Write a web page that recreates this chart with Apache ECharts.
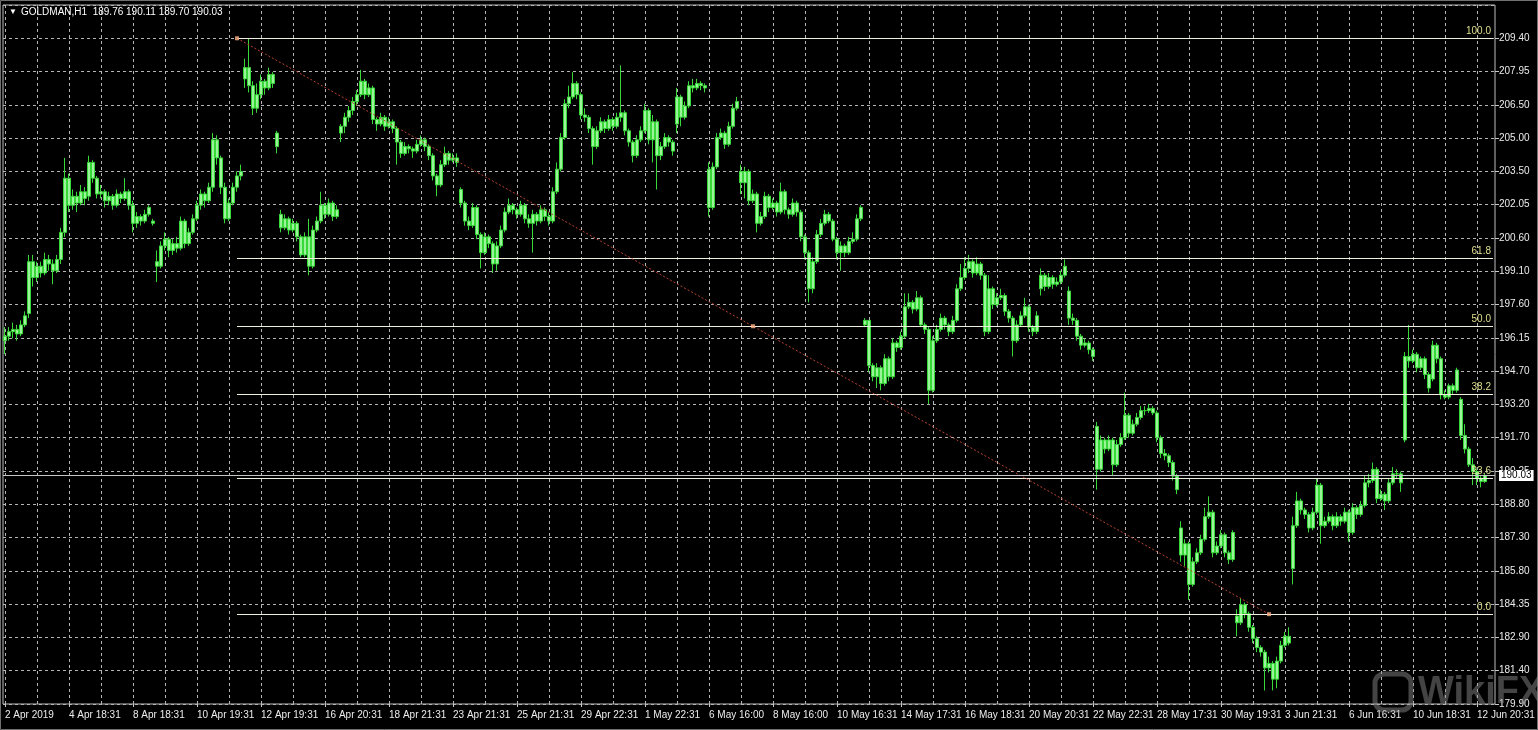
<!DOCTYPE html>
<html><head><meta charset="utf-8">
<script src="https://cdn.jsdelivr.net/npm/echarts@6/dist/echarts.min.js"></script>
<style>html,body{margin:0;padding:0;background:#000;}#c{width:1538px;height:730px;}</style>
</head><body><div id="c"></div><script>
// ---- data (GOLDMAN, H1) ----
const symbolName = 'GOLDMAN,H1';
const xTickLabels = ['2 Apr 2019','4 Apr 18:31','8 Apr 18:31','10 Apr 19:31','12 Apr 19:31','16 Apr 20:31','18 Apr 21:31','23 Apr 21:31','25 Apr 21:31','29 Apr 22:31','1 May 22:31','6 May 16:00','8 May 16:00','10 May 16:31','14 May 17:31','16 May 18:31','20 May 20:31','22 May 22:31','28 May 17:31','30 May 19:31','3 Jun 21:31','6 Jun 16:31','10 Jun 18:31','12 Jun 20:31'];
const yTickLabels = ['179.90','181.40','182.90','184.35','185.80','187.30','188.80','190.25','191.70','193.20','194.70','196.15','197.60','199.10','200.60','202.05','203.50','205.00','206.50','207.95','209.40'];

const opens = [
196.0,196.2,196.4,196.5,196.3,196.7,197.2,199.5,198.8,199.3,199.0,199.6,199.4,199.1,199.6,200.8,
203.2,202.0,202.4,202.1,202.6,202.4,203.9,203.2,202.5,202.6,202.2,202.4,202.0,202.5,202.3,202.6,
202.0,201.2,201.5,201.3,201.6,201.2,199.5,199.3,200.2,200.5,200.0,200.3,200.1,201.3,200.3,200.8,
201.4,202.0,202.5,202.2,202.8,204.9,204.1,202.8,201.4,202.1,202.8,203.3,207.6,208.1,207.3,206.3,
206.9,207.5,207.2,207.8,205.2,201.6,201.0,201.4,200.9,201.2,200.6,199.8,200.6,199.3,200.9,201.3,
202.0,201.6,202.1,201.5,205.2,205.5,205.9,206.2,206.6,206.9,207.5,206.9,207.2,205.8,205.6,205.9,
205.5,205.7,205.4,204.8,204.3,204.6,204.5,204.4,204.7,204.9,204.6,204.2,203.3,202.9,203.8,204.3,
204.0,204.1,202.7,202.1,201.3,201.1,201.9,200.7,199.9,200.6,200.3,199.4,200.2,200.9,201.7,202.0,
201.8,201.6,202.0,201.4,201.2,201.6,201.3,201.8,201.5,201.3,202.6,203.6,205.0,206.5,206.8,207.4,
206.9,206.0,205.9,205.4,204.6,205.3,205.7,205.4,205.8,205.5,205.9,206.1,205.3,204.8,204.2,204.9,
205.3,206.2,204.9,205.7,204.2,204.6,205.0,204.8,205.6,206.8,205.9,206.4,207.3,207.2,207.4,207.3,
203.6,201.9,203.7,205.0,205.2,204.7,205.5,206.3,203.5,203.0,203.5,202.2,202.5,201.2,201.5,202.4,
201.9,202.1,201.7,202.6,201.8,201.6,202.1,201.7,200.6,199.9,198.3,199.5,200.7,201.2,201.6,201.3,
200.5,199.9,200.2,199.9,200.4,200.5,201.4,196.7,196.9,194.9,194.4,194.8,194.1,195.2,194.4,195.9,
195.7,196.2,197.5,197.7,197.4,197.9,196.7,196.5,193.8,196.0,196.5,197.0,196.7,196.4,196.9,198.3,
198.8,199.2,199.5,199.0,199.4,198.9,196.4,198.3,197.6,197.9,198.0,197.3,197.0,196.0,196.7,197.1,
197.5,196.6,196.4,198.3,198.9,198.4,198.8,198.5,198.6,198.9,198.2,197.0,196.9,196.2,195.8,195.9,
195.6,192.2,190.3,191.6,191.2,191.6,190.5,191.4,191.7,192.7,191.9,192.3,192.6,192.9,192.9,193.0,
192.8,191.7,191.0,190.9,190.6,190.0,187.7,186.5,187.0,185.2,186.2,186.6,187.2,188.2,188.4,186.6,
186.9,187.4,186.6,186.3,183.8,183.5,184.3,183.9,183.3,182.8,182.4,182.2,181.5,181.7,181.0,181.8,
182.5,182.9,185.9,187.8,188.9,188.5,188.3,187.7,188.4,189.6,187.8,188.0,188.2,187.8,188.2,188.0,
188.4,187.5,188.6,188.3,188.7,189.7,189.8,190.3,189.0,189.2,188.9,189.7,190.1,190.1,191.6,195.3,
195.1,195.4,194.8,195.2,194.5,194.3,195.8,195.2,193.6,193.5,194.0,193.8,193.4,191.8,191.2,190.5,
190.2,189.9,189.76];
const highs = [
196.6,196.6,196.8,196.7,196.9,197.3,199.8,199.8,199.5,199.5,199.9,199.8,199.6,199.8,201.0,204.1,
203.4,202.7,202.6,202.9,202.8,204.2,204.0,203.3,202.9,202.7,202.6,202.5,202.7,202.6,203.2,202.7,
202.2,201.7,201.6,201.8,202.0,201.4,200.0,200.4,200.8,200.6,200.5,200.6,201.5,201.4,201.0,201.6,
202.2,202.7,202.6,203.0,205.2,205.1,204.2,203.0,202.3,203.0,203.5,203.8,208.5,209.4,207.5,207.4,
207.8,207.6,208.1,207.9,205.3,201.8,201.6,201.5,201.4,201.3,200.7,200.8,201.4,201.1,201.5,202.6,
202.1,202.3,202.2,202.0,205.6,206.1,206.4,206.8,207.1,208.0,207.6,207.4,207.3,205.9,206.1,206.0,
205.9,205.8,205.5,204.9,204.8,204.7,204.6,204.9,205.1,205.0,204.7,204.3,203.4,204.0,204.6,204.4,
204.3,204.3,202.8,202.2,201.5,202.1,202.0,200.8,200.8,200.7,200.4,200.4,201.1,201.9,202.3,202.1,
201.9,202.2,202.1,201.6,201.8,201.7,202.0,201.9,201.7,202.8,203.9,205.2,206.7,207.3,207.9,207.5,
207.0,206.3,206.0,205.5,205.5,205.9,205.8,206.0,205.9,206.1,208.2,206.2,205.4,204.9,205.1,205.5,
206.5,206.3,206.0,205.8,204.8,205.2,205.1,204.9,207.2,206.9,206.6,207.5,207.6,207.6,207.5,207.4,
203.9,203.9,205.2,205.4,205.3,205.7,206.5,206.8,203.8,203.7,203.6,202.7,202.6,201.7,202.6,202.5,
202.3,202.2,203.0,202.7,201.9,202.3,202.2,201.8,200.7,200.0,199.7,200.9,201.4,201.8,201.7,201.4,
200.6,200.4,200.3,200.6,200.8,201.6,202.0,197.0,196.9,195.0,195.0,194.9,195.4,195.3,196.1,196.0,
196.4,198.1,198.1,197.8,198.2,198.0,196.8,196.6,196.2,196.7,197.2,197.1,196.8,197.1,198.5,199.4,
199.7,199.8,199.6,199.7,199.5,199.0,198.9,198.4,198.1,198.3,198.1,197.4,197.1,196.9,197.3,197.9,
197.6,196.7,197.3,199.2,199.0,199.0,198.9,198.8,199.1,199.6,198.4,197.2,197.0,196.3,196.1,196.0,
195.7,192.4,191.8,191.7,191.8,191.7,191.6,191.9,193.7,192.8,192.5,192.8,193.1,193.1,193.2,193.1,
192.9,191.8,191.2,191.0,190.7,190.1,188.0,187.2,187.1,186.4,186.8,187.4,188.6,189.1,188.5,187.1,
187.6,187.5,186.7,187.6,184.1,184.6,184.4,184.0,183.4,182.9,182.5,182.3,182.0,181.8,182.0,182.7,
183.1,183.3,188.2,189.3,189.0,188.6,188.4,188.6,189.9,189.7,188.2,188.4,188.3,188.4,188.3,188.6,
188.5,188.8,188.7,188.9,190.0,190.1,190.6,190.4,189.4,189.3,189.9,190.4,190.3,190.2,195.5,196.7,
195.6,195.5,195.3,195.3,194.6,196.0,195.9,195.3,193.8,194.1,194.1,194.8,193.5,192.3,191.3,190.8,
190.3,190.0,190.11];
const lows = [
195.4,196.0,196.1,196.0,196.2,196.6,197.0,198.4,198.6,198.8,198.9,199.1,198.5,199.0,199.4,200.6,
201.7,201.8,201.7,202.0,202.0,202.2,203.0,202.3,202.3,201.9,202.0,201.8,201.9,202.1,202.2,201.8,
200.8,201.0,201.1,201.2,201.5,201.1,198.6,199.2,200.0,199.7,199.8,199.9,200.0,200.1,200.2,200.7,
201.3,201.8,201.9,202.1,202.6,203.8,202.5,201.2,201.3,202.0,202.6,203.1,207.2,207.0,206.0,206.1,
206.7,206.9,207.1,207.2,204.3,200.8,200.9,200.7,200.8,200.4,199.7,199.7,198.9,199.2,200.8,201.2,
201.4,201.5,201.3,201.4,204.8,205.2,205.7,206.0,206.4,206.8,206.7,206.8,205.6,205.3,205.5,205.3,
205.4,205.2,203.8,204.1,204.2,204.3,204.1,204.3,204.6,204.4,204.0,203.1,202.4,202.8,203.7,203.8,
203.9,203.7,201.9,201.1,200.9,201.0,200.5,199.2,199.8,200.1,199.0,199.1,200.1,200.8,201.6,201.6,
201.4,201.5,201.2,201.0,199.9,201.1,201.2,201.3,201.1,201.2,202.5,203.5,204.9,206.3,206.7,206.7,
205.8,205.7,205.2,203.8,204.5,205.2,205.2,205.3,205.3,205.4,205.7,205.1,204.6,203.9,204.1,204.8,
205.2,204.7,203.9,202.7,204.0,204.5,204.6,204.2,205.2,205.5,205.8,206.3,207.0,207.1,207.1,207.0,
201.5,201.8,203.6,204.9,204.5,204.6,205.4,206.2,202.5,202.3,202.0,202.1,200.8,201.1,201.4,201.7,
201.8,201.5,201.6,201.6,201.4,201.5,201.5,200.4,199.6,197.7,198.1,199.4,200.6,201.1,201.2,200.4,
199.6,199.1,199.7,199.8,200.3,200.4,201.3,196.6,194.6,194.2,193.9,193.8,194.0,194.2,194.3,195.5,
195.6,196.1,197.4,197.2,197.3,196.6,196.3,193.2,193.7,195.9,196.4,196.5,196.2,196.3,196.8,198.2,
198.7,199.0,198.8,198.9,198.7,196.2,196.3,197.4,197.5,197.8,197.1,196.8,195.3,195.9,196.6,197.0,
196.4,196.2,196.3,198.0,198.2,198.3,198.3,198.4,198.5,198.8,196.7,196.7,196.0,195.6,195.7,195.4,
195.1,189.4,190.2,191.0,191.1,190.0,190.4,191.3,191.6,191.7,191.8,192.2,192.5,192.7,192.8,192.7,
191.5,190.8,190.7,190.4,189.8,189.2,186.2,186.0,184.5,185.1,186.1,186.5,187.1,188.1,186.4,186.5,
186.8,186.4,186.1,186.2,182.9,183.4,183.7,183.1,182.6,182.2,182.0,180.5,181.3,180.5,180.6,181.7,
182.4,182.5,185.2,187.7,188.3,188.1,187.5,187.6,188.3,187.0,187.7,187.9,187.6,187.7,187.8,187.9,
187.1,187.4,188.1,188.2,188.6,189.5,189.7,188.8,188.9,188.5,188.8,189.6,189.9,189.3,191.5,194.8,
195.0,194.6,194.7,194.3,193.7,194.2,195.0,193.4,193.4,193.4,193.6,193.7,191.6,191.0,190.4,189.6,
189.6,189.5,189.70];
const closes = [
196.2,196.4,196.5,196.3,196.7,197.1,199.5,198.8,199.3,199.0,199.6,199.4,199.1,199.6,200.8,203.2,
202.0,202.4,202.1,202.6,202.3,203.9,203.2,202.5,202.6,202.2,202.4,202.0,202.5,202.3,202.6,202.0,
201.2,201.5,201.3,201.6,201.9,201.3,199.3,200.2,200.5,200.0,200.3,200.1,201.3,200.3,200.8,201.4,
202.0,202.5,202.2,202.8,204.9,204.1,202.8,201.4,202.1,202.8,203.3,203.5,208.1,207.3,206.3,206.9,
207.5,207.2,207.8,207.4,204.6,201.0,201.4,200.9,201.2,200.6,199.8,200.6,199.3,200.9,201.3,202.0,
201.6,202.1,201.5,201.8,205.5,205.9,206.2,206.6,206.9,207.5,206.9,207.2,205.8,205.6,205.9,205.5,
205.7,205.4,204.8,204.3,204.6,204.5,204.4,204.7,204.9,204.6,204.2,203.3,202.9,203.8,204.3,204.0,
204.1,203.9,202.1,201.3,201.1,201.9,200.7,199.9,200.6,200.3,199.4,200.2,200.9,201.7,202.0,201.8,
201.6,202.0,201.4,201.2,201.6,201.3,201.8,201.5,201.3,202.6,203.6,205.0,206.5,206.8,207.4,206.9,
206.0,205.9,205.4,204.6,205.3,205.7,205.4,205.8,205.5,205.9,206.1,205.3,204.8,204.2,204.9,205.3,
206.2,204.9,205.7,204.2,204.6,205.0,204.8,204.4,206.8,205.9,206.4,207.3,207.2,207.4,207.3,207.2,
201.9,203.7,205.0,205.2,204.7,205.5,206.3,206.6,203.0,203.5,202.2,202.5,201.2,201.5,202.4,201.9,
202.1,201.7,202.6,201.8,201.6,202.1,201.7,200.6,199.9,198.3,199.5,200.7,201.2,201.6,201.3,200.5,
199.9,200.2,199.9,200.4,200.5,201.4,201.9,196.9,194.9,194.4,194.8,194.1,195.2,194.4,195.9,195.7,
196.2,197.5,197.7,197.4,197.9,196.7,196.5,193.8,196.0,196.5,197.0,196.7,196.4,196.9,198.3,198.8,
199.2,199.5,199.0,199.4,198.9,196.4,198.3,197.6,197.9,198.0,197.3,197.0,196.0,196.7,197.1,197.5,
196.6,196.4,197.1,198.9,198.4,198.8,198.5,198.6,198.9,199.3,197.0,196.9,196.2,195.8,195.9,195.6,
195.3,190.3,191.6,191.2,191.6,190.5,191.4,191.7,192.7,191.9,192.3,192.6,192.9,192.9,193.0,192.8,
191.7,191.0,190.9,190.6,190.0,189.4,186.5,187.0,185.2,186.2,186.6,187.2,188.2,188.4,186.6,186.9,
187.4,186.6,186.3,187.5,183.5,184.3,183.9,183.3,182.8,182.4,182.2,181.5,181.7,181.0,181.8,182.5,
182.9,182.6,187.8,188.9,188.5,188.3,187.7,188.4,189.6,187.8,188.0,188.2,187.8,188.2,188.0,188.4,
187.5,188.6,188.3,188.7,189.7,189.8,190.3,189.0,189.2,188.9,189.7,190.1,190.1,189.7,195.3,195.1,
195.4,194.8,195.2,194.5,193.9,195.8,195.2,193.6,193.5,194.0,193.8,194.7,191.8,191.2,190.5,190.2,
189.9,189.76,190.03];

// Fibonacci retracement drawn on the chart
const fibLevels = [0, 23.6, 38.2, 50, 61.8, 100];
const fibHigh = 209.40, fibLow = 183.88;
const fibStartBar = 58, fibEndBar = 316;
const bidPrice = 190.03;

// ---- chart ----
const FONT = "'Liberation Sans', Arial, sans-serif";
const N_SLOTS = 373;
const cats = Array.from({length: N_SLOTS}, (_, i) => String(i));
const candles = opens.map((o, i) => [o, closes[i], lows[i], highs[i]]);
const fibValue = p => fibLow + (fibHigh - fibLow) * p / 100;
const last = opens.length - 1;
const Y_MIN = 179.9, Y_STEP = 1.475;

const chart = echarts.init(document.getElementById('c'), null, {renderer: 'canvas'});
const option = {
  backgroundColor: '#000',
  animation: false,
  grid: {left: 3, right: 43, top: 5, bottom: 26, show: true, borderColor: '#bdbdbd', borderWidth: 1, backgroundColor: '#000'},
  xAxis: {
    type: 'category', data: cats, boundaryGap: true,
    axisLine: {show: false},
    axisTick: {show: true, alignWithLabel: true, interval: i => i % 16 === 0, length: 3, lineStyle: {color: '#c8c8c8'}},
    axisLabel: {interval: i => i % 16 === 0, formatter: (v, i) => xTickLabels[i / 16] || '', align: 'left',
      color: '#ececec', fontSize: 10, fontFamily: FONT, margin: 6},
    splitLine: {show: true, interval: i => i % 8 === 0, alignWithLabel: true, lineStyle: {color: '#b4b4b4', type: [3, 3], width: 1}}
  },
  yAxis: {
    type: 'value', position: 'right', min: Y_MIN, max: Y_MIN + 21 * Y_STEP, interval: Y_STEP,
    axisLine: {show: false},
    axisTick: {show: true, length: 4, lineStyle: {color: '#c8c8c8'}},
    axisLabel: {showMaxLabel: false, formatter: v => yTickLabels[Math.round((v - Y_MIN) / Y_STEP)] || '',
      color: '#ececec', fontSize: 10, fontFamily: FONT, margin: 4},
    splitLine: {show: true, lineStyle: {color: '#b4b4b4', type: [3, 3], width: 1}}
  },
  series: [
    {
      type: 'candlestick', data: candles, barWidth: 3, z: 3,
      itemStyle: {color: '#9af59a', color0: '#9af59a', borderColor: '#38d838', borderColor0: '#38d838', borderWidth: 1},
      markLine: {
        silent: true, symbol: ['none', 'none'], animation: false,
        data: [
          ...fibLevels.map(p => [
            {coord: [String(fibStartBar), fibValue(p)], lineStyle: {color: '#efefdc', width: 1, type: 'solid'},
             label: {show: true, position: 'insideEndTop', formatter: p.toFixed(1), color: '#dede8c', fontSize: 10, fontFamily: FONT, distance: 2}},
            {coord: [String(N_SLOTS - 1), fibValue(p)]}
          ]),
          [
            {coord: [String(fibStartBar), fibHigh], lineStyle: {color: '#b8402e', type: [2, 2], width: 1}, label: {show: false}},
            {coord: [String(fibEndBar), fibLow]}
          ],
          {yAxis: bidPrice, lineStyle: {color: '#c4c4c4', type: 'solid', width: 1},
           label: {show: true, position: 'end', formatter: bidPrice.toFixed(2), color: '#000', backgroundColor: '#fff',
                   padding: [1, 2, 0, 2], fontSize: 10, fontFamily: FONT, distance: 4}}
        ]
      }
    },
    {
      type: 'scatter', z: 6, symbol: 'rect', symbolSize: 4, silent: true,
      itemStyle: {color: '#ffb48a'},
      data: [[String(fibStartBar), fibHigh], [String((fibStartBar + fibEndBar) / 2), fibValue(50)], [String(fibEndBar), fibLow]]
    }
  ],
  graphic: [
    {type: 'rect', silent: true, z: 100, shape: {x: 0.5, y: 0.5, width: 1537, height: 729}, style: {fill: 'none', stroke: '#707070', lineWidth: 1}},
    {type: 'text', left: 9, top: 8, z: 100, style: {text: '▼', fill: '#ffffff', font: `8px ${FONT}`}},
    {type: 'text', left: 21, top: 7, z: 100, style: {
      text: `${symbolName}  ${opens[last].toFixed(2)} ${highs[last].toFixed(2)} ${lows[last].toFixed(2)} ${closes[last].toFixed(2)}`,
      fill: '#ffffff', font: `10px ${FONT}`}},
    {type: 'rect', silent: true, z: 100, shape: {x: 1375, y: 674, width: 36, height: 36, r: 9}, style: {fill: 'none', stroke: 'rgba(150,150,150,0.45)', lineWidth: 5}},
    {type: 'text', left: 1418, top: 674, z: 100, style: {text: 'WikiFX', fill: 'rgba(150,150,150,0.45)', font: `bold 38px ${FONT}`}}
  ]
};
chart.setOption(option);
</script></body></html>
